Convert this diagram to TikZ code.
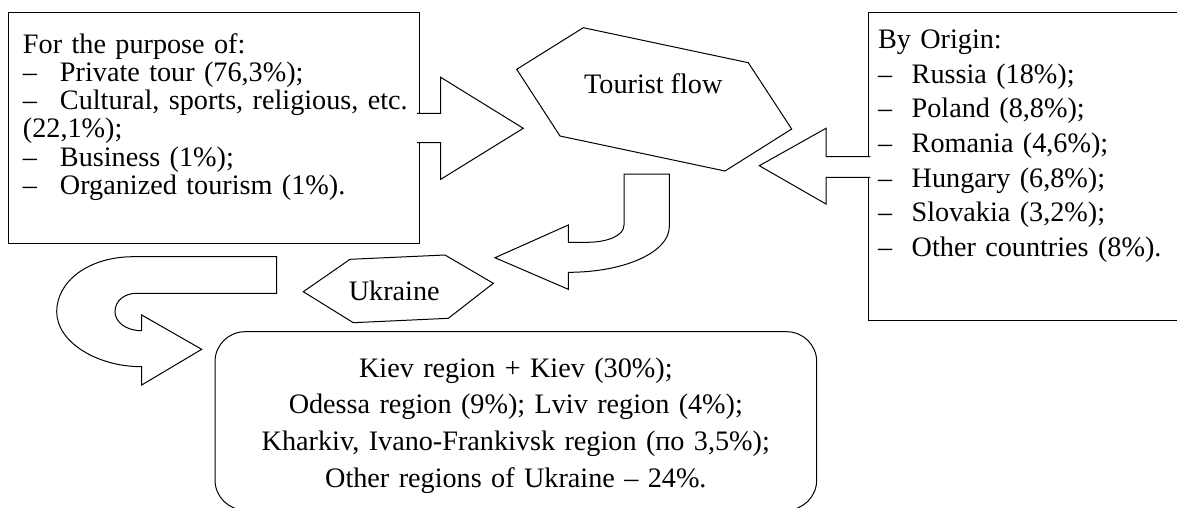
\documentclass[tikz,border=0pt]{standalone}
\usepackage{fontspec}
\setmainfont{Liberation Serif}
\tikzstyle{listbox} = [rectangle, draw=black, line width=1pt, outer sep=0pt, inner ysep=0pt, align=left, anchor=north west]
\tikzstyle{regionbox} = [rectangle, rounded corners=30pt, draw=black, line width=1pt, outer sep=0pt, inner ysep=0pt, align=center, anchor=north west]
\tikzstyle{hexa} = [draw=black, line width=1pt]
\tikzstyle{hexname} = [anchor=base, inner sep=0pt, font=\fontsize{28.2pt}{34pt}\selectfont]
\tikzstyle{blockarrow} = [draw=black, fill=white, line width=1pt]

\begin{document}
\begin{tikzpicture}[x=1pt, y=-1pt]
\useasboundingbox (0,0) rectangle (1177,507);

% Boxes - purpose, origin and regions
\node (purpose) [listbox, text width=381.3pt, inner xsep=15pt, text height=40.3pt, text depth=190pt, font=\fontsize{28.2pt}{28.3pt}\selectfont] at (8,12.7) {For the purpose of:\\ \makebox[37pt][l]{--}Private tour (76,3\%);\\ \mbox{\makebox[37pt][l]{--}Cultural, sports, religious, etc.}\\ (22,1\%);\\ \makebox[37pt][l]{--}Business (1\%);\\ \makebox[37pt][l]{--}Organized tourism (1\%).};
\node (origin) [listbox, text width=302.3pt, inner xsep=9.7pt, text height=35.6pt, text depth=272.4pt, font=\fontsize{28.2pt}{34.7pt}\selectfont] at (868.3,12.7) {By Origin:\\ \makebox[33.7pt][l]{--}Russia (18\%);\\ \makebox[33.7pt][l]{--}Poland (8,8\%);\\ \makebox[33.7pt][l]{--}Romania (4,6\%);\\ \makebox[33.7pt][l]{--}Hungary (6,8\%);\\ \makebox[33.7pt][l]{--}Slovakia (3,2\%);\\ \makebox[33.7pt][l]{--}Other countries (8\%).};
\node (regions) [regionbox, text width=581.7pt, inner xsep=10pt, text height=45.3pt, text depth=133pt, font=\fontsize{28.2pt}{36.7pt}\selectfont] at (215,331.7) {Kiev region + Kiev (30\%);\\ Odessa region (9\%); Lviv region (4\%);\\ Kharkiv, Ivano-Frankivsk region (по 3,5\%);\\ Other regions of Ukraine -- 24\%.};

% Hexagons - tourist flow and Ukraine
\draw [hexa] (516.7,69.3) -- (583.3,27.7) -- (748.3,62.7) -- (791.7,129) -- (725,171) -- (560,136) -- cycle;
\node (flow) [hexname] at (653.3,93.3) {Tourist flow};
\draw [hexa] (303.3,291.7) -- (350,259.3) -- (445,255) -- (493.3,283.3) -- (448.3,318.3) -- (353.3,322.7) -- cycle;
\node (ukraine) [hexname] at (394.2,300) {Ukraine};

% Block arrows
\draw [blockarrow] (417,113.3) -- (440.7,113.3) -- (440.7,77.3) -- (523.3,128.3) -- (440.7,179.3) -- (440.7,142.7) -- (417,142.7);
\draw [blockarrow] (870.3,156.7) -- (826,156.7) -- (826,128.3) -- (759.3,165.7) -- (826,204) -- (826,177.3) -- (870.3,177.3);
\draw [blockarrow] (624,174) -- (669.3,174) -- (669.3,226.7) .. controls (669.3,252) and (625,272.3) .. (568.3,272.3) -- (568.3,289.3) -- (495,257.7) -- (568.3,225) -- (568.3,242.3) -- (586.7,242.3) .. controls (607,242.3) and (624,236) .. (624,225) -- cycle;
\draw [blockarrow] (276.7,256.7) -- (133.3,256.7) .. controls (89,256.7) and (56.7,281) .. (56.7,311.7) .. controls (56.7,342) and (97,366.7) .. (141.7,366.7) -- (141.7,385) -- (201.7,349.3) -- (141.7,315) -- (141.7,330.7) .. controls (126,330.7) and (115,322) .. (115,311.7) .. controls (115,301) and (124,293.3) .. (136.7,293.3) -- (276.7,293.3) -- cycle;

\end{tikzpicture}
\end{document}
